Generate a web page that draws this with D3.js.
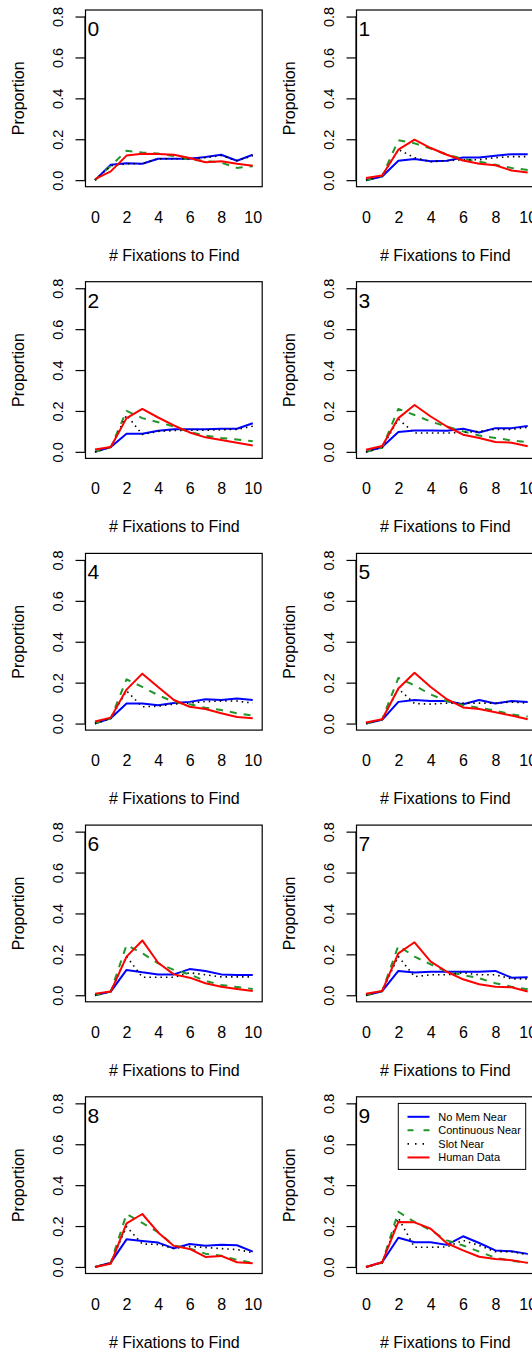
<!DOCTYPE html>
<html>
<head>
<meta charset="utf-8">
<script src="https://cdn.jsdelivr.net/npm/d3@7"></script>
<style>
  html, body { margin: 0; padding: 0; background: #fff; }
  svg { display: block; }
  text { font-family: "Liberation Sans", Arial, Helvetica, sans-serif; fill: #000; }
</style>
</head>
<body>
<svg id="chart" width="532" height="1351"></svg>
<script>
// ---------- data ----------
const fixations = [0, 1, 2, 3, 4, 5, 6, 7, 8, 9, 10];
const panelLabels = ["0", "1", "2", "3", "4", "5", "6", "7", "8", "9"];
const yTicks = [0.0, 0.2, 0.4, 0.6, 0.8];
const xTicks = [0, 2, 4, 6, 8, 10];
const seriesNames = ["No Mem Near", "Continuous Near", "Slot Near", "Human Data"];

const noMemNear = [
  [0.00, 0.075, 0.083, 0.080, 0.105, 0.105, 0.105, 0.113, 0.124, 0.095, 0.124],
  [0.00, 0.018, 0.095, 0.103, 0.092, 0.095, 0.111, 0.111, 0.119, 0.127, 0.127],
  [0.00, 0.024, 0.089, 0.089, 0.103, 0.110, 0.110, 0.110, 0.113, 0.113, 0.140],
  [0.00, 0.024, 0.097, 0.105, 0.105, 0.103, 0.113, 0.095, 0.116, 0.116, 0.126],
  [0.00, 0.026, 0.098, 0.098, 0.090, 0.100, 0.106, 0.119, 0.115, 0.123, 0.115],
  [0.00, 0.018, 0.106, 0.115, 0.110, 0.110, 0.094, 0.115, 0.098, 0.110, 0.106],
  [0.00, 0.018, 0.124, 0.112, 0.102, 0.102, 0.128, 0.119, 0.102, 0.099, 0.099],
  [0.00, 0.020, 0.119, 0.111, 0.115, 0.115, 0.115, 0.115, 0.119, 0.086, 0.088],
  [0.00, 0.021, 0.135, 0.127, 0.119, 0.091, 0.112, 0.104, 0.109, 0.106, 0.075],
  [0.00, 0.023, 0.143, 0.121, 0.121, 0.108, 0.150, 0.117, 0.081, 0.077, 0.064]
];
const continuousNear = [
  [0.00, 0.070, 0.144, 0.135, 0.130, 0.118, 0.100, 0.095, 0.085, 0.060, 0.068],
  [0.00, 0.020, 0.195, 0.180, 0.155, 0.125, 0.105, 0.090, 0.075, 0.060, 0.050],
  [0.00, 0.022, 0.200, 0.165, 0.145, 0.124, 0.097, 0.080, 0.068, 0.060, 0.052],
  [0.00, 0.020, 0.210, 0.180, 0.148, 0.124, 0.100, 0.080, 0.068, 0.056, 0.047],
  [0.00, 0.025, 0.216, 0.179, 0.139, 0.106, 0.094, 0.077, 0.066, 0.050, 0.039],
  [0.00, 0.020, 0.223, 0.187, 0.142, 0.110, 0.090, 0.077, 0.063, 0.045, 0.034],
  [0.00, 0.018, 0.246, 0.205, 0.156, 0.124, 0.102, 0.070, 0.050, 0.040, 0.031],
  [0.00, 0.020, 0.242, 0.189, 0.151, 0.115, 0.099, 0.083, 0.059, 0.042, 0.029],
  [0.00, 0.020, 0.259, 0.215, 0.170, 0.105, 0.090, 0.065, 0.055, 0.035, 0.020],
  [0.00, 0.020, 0.270, 0.220, 0.180, 0.130, 0.105, 0.075, 0.045, 0.030, 0.020]
];
const slotNear = [
  [0.00, 0.070, 0.080, 0.080, 0.105, 0.105, 0.105, 0.110, 0.120, 0.095, 0.120],
  [0.00, 0.020, 0.150, 0.110, 0.090, 0.095, 0.100, 0.100, 0.110, 0.115, 0.115],
  [0.00, 0.022, 0.180, 0.085, 0.100, 0.104, 0.106, 0.106, 0.108, 0.110, 0.125],
  [0.00, 0.022, 0.160, 0.092, 0.092, 0.092, 0.095, 0.100, 0.110, 0.110, 0.120],
  [0.00, 0.025, 0.160, 0.082, 0.085, 0.095, 0.100, 0.108, 0.110, 0.110, 0.100],
  [0.00, 0.020, 0.170, 0.098, 0.095, 0.100, 0.100, 0.100, 0.100, 0.105, 0.100],
  [0.00, 0.018, 0.190, 0.088, 0.088, 0.088, 0.110, 0.100, 0.090, 0.090, 0.090],
  [0.00, 0.020, 0.190, 0.091, 0.100, 0.100, 0.110, 0.100, 0.100, 0.080, 0.080],
  [0.00, 0.020, 0.197, 0.112, 0.110, 0.090, 0.100, 0.095, 0.090, 0.085, 0.070],
  [0.00, 0.020, 0.240, 0.096, 0.096, 0.098, 0.130, 0.105, 0.075, 0.075, 0.060]
];
const humanData = [
  [0.005, 0.043, 0.120, 0.129, 0.128, 0.124, 0.108, 0.088, 0.092, 0.080, 0.070],
  [0.010, 0.023, 0.149, 0.198, 0.157, 0.124, 0.096, 0.080, 0.073, 0.047, 0.038],
  [0.011, 0.024, 0.165, 0.210, 0.168, 0.129, 0.095, 0.071, 0.058, 0.044, 0.031],
  [0.010, 0.029, 0.165, 0.229, 0.173, 0.124, 0.084, 0.068, 0.048, 0.045, 0.027],
  [0.010, 0.029, 0.166, 0.244, 0.179, 0.115, 0.082, 0.071, 0.050, 0.032, 0.026],
  [0.005, 0.021, 0.171, 0.248, 0.179, 0.119, 0.079, 0.071, 0.055, 0.039, 0.021],
  [0.008, 0.018, 0.189, 0.268, 0.159, 0.102, 0.086, 0.059, 0.042, 0.031, 0.021],
  [0.007, 0.021, 0.205, 0.259, 0.164, 0.115, 0.078, 0.054, 0.042, 0.039, 0.018],
  [0.000, 0.016, 0.213, 0.259, 0.169, 0.103, 0.088, 0.049, 0.054, 0.023, 0.018],
  [0.000, 0.023, 0.220, 0.218, 0.187, 0.116, 0.081, 0.050, 0.039, 0.033, 0.020]
];

// ---------- styles ----------
const seriesData = [noMemNear, continuousNear, slotNear, humanData];
const seriesStyle = [
  { color: "#0000ff", width: 2, dash: null },
  { color: "#22962a", width: 2, dash: "7,7" },
  { color: "#000000", width: 1.6, dash: "1.5,4" },
  { color: "#ff0000", width: 2, dash: null }
];

// ---------- layout ----------
const svg = d3.select("#chart");
const boxW = 176.7, boxH = 176.7;
const colX = [86, 357];
const rowPitch = 271.7, topY = 10;

const line = (xs, ys) => d3.line().x((d, i) => xs(fixations[i])).y(d => ys(d));

panelLabels.forEach((lab, p) => {
  const col = p % 2, row = Math.floor(p / 2);
  const left = colX[col], top = topY + row * rowPitch;
  const right = left + boxW, bottom = top + boxH;

  const xs = col === 0
    ? d3.scaleLinear().domain([-0.57, 10.63]).range([left, right])
    : d3.scaleLinear().domain([-0.557, 10.37]).range([left, right]);
  const ys = d3.scaleLinear().domain([-0.032, 0.832]).range([bottom, top]);

  const g = svg.append("g");

  // series lines
  seriesData.forEach((sd, s) => {
    const st = seriesStyle[s];
    g.append("path")
      .datum(sd[p])
      .attr("d", line(xs, ys))
      .attr("fill", "none")
      .attr("stroke", st.color)
      .attr("stroke-width", st.width)
      .attr("stroke-dasharray", st.dash)
      .attr("stroke-linejoin", "round");
  });

  // box
  g.append("rect")
    .attr("x", left - 0.5).attr("y", top)
    .attr("width", boxW).attr("height", boxH)
    .attr("fill", "none").attr("stroke", "#000").attr("stroke-width", 1.2);

  // y axis (ticks outward, labels rotated)
  const yAxis = d3.axisLeft(ys).tickValues(yTicks).tickFormat(d3.format(".1f"))
    .tickSize(10).tickPadding(0);
  const ya = g.append("g").attr("transform", `translate(${left - 0.5},0)`).call(yAxis);
  ya.select(".domain").attr("d", `M-0.5,${ys(0)}V${ys(0.8)}`).attr("stroke", "#000").attr("stroke-width", 1.2);
  ya.selectAll(".tick line").attr("stroke", "#000").attr("stroke-width", 1.2);
  ya.selectAll(".tick text")
    .attr("x", null).attr("dy", null)
    .attr("transform", "translate(-22.5,0) rotate(-90)")
    .attr("text-anchor", "middle")
    .style("font-size", "14.5px")
    .style("font-family", "'Liberation Sans', Arial, sans-serif")
    .attr("fill", "#000");

  // x axis labels only (no axis line)
  const xAxis = d3.axisBottom(xs).tickValues(xTicks).tickSize(0).tickPadding(0);
  const xa = g.append("g").attr("transform", `translate(0,${bottom})`).call(xAxis);
  xa.select(".domain").remove();
  xa.selectAll(".tick text")
    .attr("y", 36).attr("dy", null)
    .style("font-size", "16px")
    .style("font-family", "'Liberation Sans', Arial, sans-serif")
    .attr("fill", "#000");

  // axis titles
  g.append("text")
    .attr("x", (left + right) / 2).attr("y", bottom + 74)
    .attr("text-anchor", "middle").style("font-size", "16px")
    .text("# Fixations to Find");
  g.append("text")
    .attr("transform", `translate(${left - 61.8},${(top + bottom) / 2}) rotate(-90)`)
    .attr("text-anchor", "middle").style("font-size", "16px")
    .text("Proportion");

  // panel number
  g.append("text")
    .attr("x", left + 1.5).attr("y", top + 26)
    .style("font-size", "21px")
    .text(lab);

  // legend in last panel
  if (p === 9) {
    const lx = 398.3, ly = top + 6.6, lw = 127.4, lh = 66;
    const lg = g.append("g");
    lg.append("rect").attr("x", lx).attr("y", ly).attr("width", lw).attr("height", lh)
      .attr("fill", "#fff").attr("stroke", "#000").attr("stroke-width", 1);
    seriesNames.forEach((nm, s) => {
      const yy = ly + 13.4 + s * 13.55;
      const st = seriesStyle[s];
      lg.append("line").attr("x1", 407.5).attr("x2", 429.5).attr("y1", yy).attr("y2", yy)
        .attr("stroke", st.color).attr("stroke-width", st.width)
        .attr("stroke-dasharray", s === 1 ? "6,10" : (s === 2 ? "1.5,6" : null));
      lg.append("text").attr("x", 438.3).attr("y", yy + 4)
        .style("font-size", "11px").text(nm);
    });
  }
});
</script>
</body>
</html>
